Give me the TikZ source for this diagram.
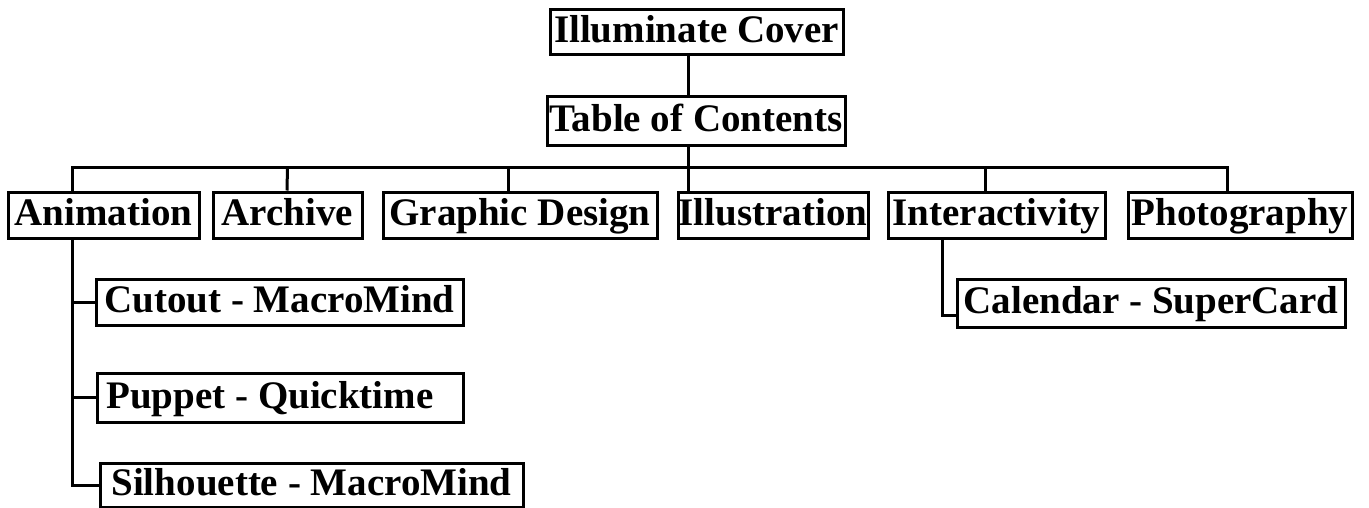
\documentclass[tikz,border=0pt]{standalone}
\usepackage{fontspec}
\setmainfont{Liberation Serif}
\tikzset{every node/.style={font=\fontsize{19.5}{22}\selectfont\bfseries},
  box/.style={draw=black,fill=white,line width=1.5pt,inner sep=0pt,
    minimum height=23pt,text height=14.5pt,text depth=4pt},
  lnk/.style={draw=black,line width=1.5pt}}

\begin{document}
\begin{tikzpicture}[x=0.5pt,y=-0.5pt]
  \path[use as bounding box] (0,0) rectangle (1369,508);

  % Top of the tree
  \node[box,minimum width=146.5pt,minimum height=22.5pt] (cover) at (696.5,32.5) {Illuminate Cover};
  \node[box,minimum width=149pt,minimum height=24pt] (toc) at (696,121) {Table of Contents};

  % Sections
  \node[box,minimum width=95.5pt] (anim) at (103.5,215) {Animation};
  \node[box,minimum width=74.5pt] (arch) at (287.5,215) {Archive};
  \node[box,minimum width=137pt] (graph) at (520,215) {Graphic Design};
  \node[box,minimum width=95pt] (illus) at (773,215) {Illustration};
  \node[box,minimum width=108.5pt] (inter) at (996.5,215) {Interactivity};
  \node[box,minimum width=112pt] (photo) at (1240,215) {Photography};

  % Pieces under Animation and Interactivity
  \node[box,minimum width=183.5pt] (cut) at (279.5,302) {Cutout - MacroMind};
  \node[box,minimum width=183pt,minimum height=24.5pt] (pup) at (280,397.5)
    {Puppet - Quicktime\kern10pt};
  \node[box,minimum width=211.5pt,minimum height=22pt] (silh) at (311.5,485) {Silhouette - MacroMind};
  \node[box,minimum width=194pt,minimum height=24pt] (cal) at (1151,303) {Calendar - SuperCard};

  % Trunk and bus
  \coordinate (trunk) at (688,0);
  \coordinate (busL) at (72,167);
  \coordinate (busR) at (1227,167);
  \draw[lnk] (cover.south -| trunk) -- (toc.north -| trunk);
  \draw[lnk] (toc.south -| trunk) -- (illus.north -| trunk);
  \draw[lnk] (anim.north -| busL) -- (busL) -- (busR) -- (photo.north -| busR);
  \draw[lnk] (arch.north -| 287,0) -- (arch.north |- busL);
  \draw[lnk] (graph.north -| 508,0) -- (508,167);
  \draw[lnk] (inter.north -| 985,0) -- (985,167);

  % Sub-branches
  \draw[lnk] (anim.south -| busL) |- (silh.west);
  \draw[lnk] (cut.west) -- (cut.west -| busL);
  \draw[lnk] (pup.west) -- (pup.west -| busL);
  \draw[lnk] (inter.south -| 942,0) |- ([yshift=-6pt]cal.west);
\end{tikzpicture}
\end{document}
